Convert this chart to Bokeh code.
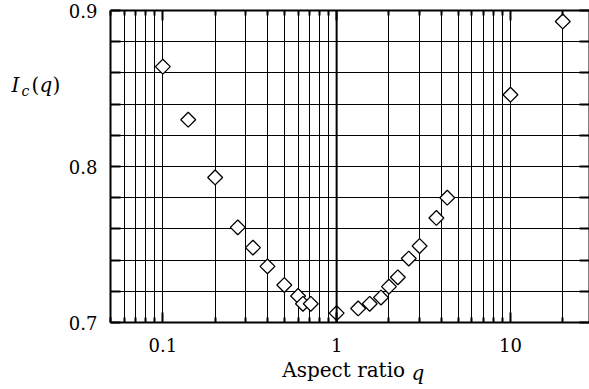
import math
from bokeh.plotting import figure
from bokeh.models import (FixedTicker, LogAxis, LinearAxis, Label, Span, Range1d,
                          NumeralTickFormatter, CustomJSTickFormatter)
from bokeh.embed import file_html
from bokeh.resources import INLINE

q_vals = [0.1, 0.14, 0.2, 0.27, 0.33, 0.4, 0.5, 0.6, 0.64, 0.71, 1.0,
          1.33, 1.55, 1.8, 2.0, 2.25, 2.6, 3.0, 3.75, 4.33, 10.0, 20.0]
ic_vals = [0.864, 0.830, 0.793, 0.761, 0.748, 0.736, 0.724, 0.717, 0.712, 0.712, 0.706,
           0.709, 0.712, 0.716, 0.723, 0.729, 0.741, 0.749, 0.767, 0.780, 0.846, 0.893]

x_major = [0.1, 1, 10]
x_minor = [m * 10.0 ** e for e in (-2, -1, 0, 1) for m in range(2, 10)]
y_major = [0.7, 0.8, 0.9]
y_minor = [0.72, 0.74, 0.76, 0.78, 0.82, 0.84, 0.86, 0.88]

FONT = "DejaVu Serif"
X0, X1, Y0, Y1 = 0.05, 28.5, 0.7, 0.9
W, H = 589, 389
FL, FT, FB = 110, 10, 322   # frame left / top / bottom in px (frame right = W)

p = figure(width=W, height=H, x_axis_type="log",
           x_range=Range1d(X0, X1), y_range=Range1d(Y0, Y1),
           output_backend="svg", toolbar_location=None,
           min_border_left=FL, min_border_right=0, min_border_top=FT, min_border_bottom=H - FB)
p.background_fill_color = "white"
p.border_fill_color = "white"
p.outline_line_color = None

xt = FixedTicker(ticks=x_major, minor_ticks=x_minor)
yt = FixedTicker(ticks=y_major, minor_ticks=y_minor)

def style_axis(ax, tin, mtin):
    ax.axis_line_color = "black"
    ax.axis_line_width = 2
    ax.major_tick_line_color = "black"
    ax.major_tick_line_width = 2
    ax.minor_tick_line_color = "black"
    ax.minor_tick_line_width = 2
    ax.major_tick_in = tin
    ax.major_tick_out = 0
    ax.minor_tick_in = mtin
    ax.minor_tick_out = 0
    ax.major_label_text_font = FONT
    ax.major_label_text_color = "black"
    ax.major_label_text_font_size = "18px"

xa = p.xaxis[0]
xa.ticker = xt
xa.formatter = NumeralTickFormatter(format="0.[0]")
style_axis(xa, 10, 5)
xa.major_label_standoff = 15
xa.axis_label = "Aspect ratio\u00a0\u00a0"
xa.axis_label_text_font = FONT
xa.axis_label_text_font_size = "20px"
xa.axis_label_text_font_style = "normal"
xa.axis_label_text_color = "black"
xa.axis_label_standoff = 3

ya = p.yaxis[0]
ya.ticker = yt
ya.formatter = NumeralTickFormatter(format="0.0")
style_axis(ya, 10, 10)
ya.major_label_standoff = 13

top = LogAxis(ticker=xt, formatter=CustomJSTickFormatter(code="return ''"))
style_axis(top, 10, 5)
top.major_label_text_font_size = "0px"
top.major_label_standoff = 0
p.add_layout(top, "above")

right = LinearAxis(ticker=yt, formatter=CustomJSTickFormatter(code="return ''"))
style_axis(right, 10, 10)
right.major_label_text_font_size = "0px"
right.major_label_standoff = 0
p.add_layout(right, "right")

p.xgrid.ticker = xt
p.ygrid.ticker = yt
for g in (p.xgrid[0], p.ygrid[0]):
    g.grid_line_color = "black"
    g.grid_line_width = 1
    g.minor_grid_line_color = "black"
    g.minor_grid_line_width = 1

p.add_layout(Span(location=1, dimension="height", line_color="black", line_width=2))

p.scatter(q_vals, ic_vals, marker="square", angle=math.pi / 4, size=10.5,
          line_color="black", line_width=1.3, fill_color="white")

# pixel -> data helpers for placing text pieces outside the frame
def dx(px):
    return X0 * (X1 / X0) ** ((px - FL) / (W - FL))

def dy(py):
    return Y0 + (FB - py) / (FB - FT) * (Y1 - Y0)

def lab(text, px, py, size, style="normal"):
    p.add_layout(Label(x=dx(px), y=dy(py), x_units="data", y_units="data", text=text,
                       text_font=FONT, text_font_size=size, text_font_style=style,
                       text_color="black", text_align="left", text_baseline="middle"),
                 "left")

# y label  I_c(q)
lab("I", 11, 84, "20px", "italic")
lab("c", 21, 90.5, "14px", "italic")
lab("(", 31, 84.6, "20px")
lab("q", 39, 84.6, "20px", "italic")
lab(")", 52, 84.6, "20px")

# italic q of the x label
lab("q", 411, 372.8, "20px", "italic")

open("out.html", "w").write(file_html(p, INLINE))
